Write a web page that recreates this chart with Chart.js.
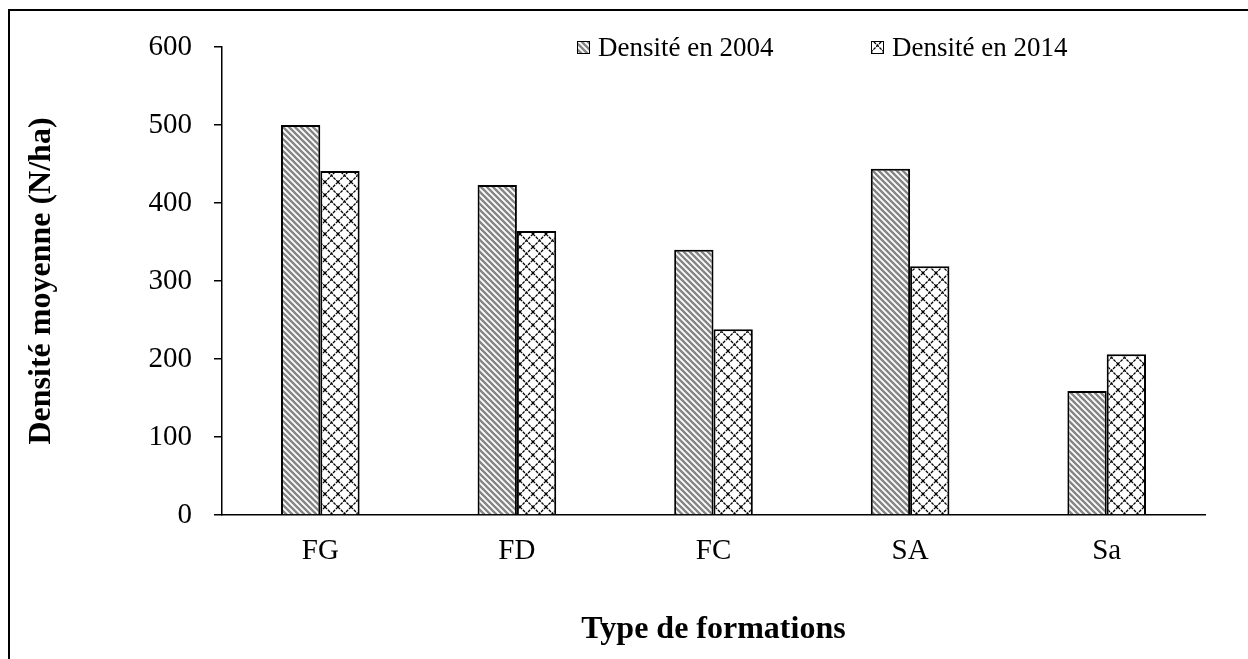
<!DOCTYPE html>
<html>
<head>
<meta charset="utf-8">
<script src="https://cdn.jsdelivr.net/npm/chart.js@4"></script>
<style>
  body { margin: 0; background: #fff; }
  #wrap { position: relative; width: 1248px; height: 659px; overflow: hidden; }
  #frame { position: absolute; left: 8px; top: 9px; width: 1300px; height: 700px;
           border-top: 2px solid #000; border-left: 2px solid #000; box-sizing: border-box; }
  #chart { position: absolute; left: 0; top: 0; }
</style>
</head>
<body>
<div id="wrap">
  <div id="frame"></div>
  <canvas id="chart" width="1248" height="659"></canvas>
</div>
<script>
const formations = ['FG', 'FD', 'FC', 'SA', 'Sa'];
const densite2004 = [500, 423, 340, 444, 159];
const densite2014 = [441, 364, 238, 319, 206];
const seriesLabels = ['Densité en 2004', 'Densité en 2014'];
const yTicks = [0, 100, 200, 300, 400, 500, 600];

const FONT = '"Liberation Serif", "Times New Roman", serif';

// hatch patterns
function stripePattern() {
    const c = document.createElement('canvas');
    c.width = 6; c.height = 6;
    const g = c.getContext('2d');
    g.fillStyle = '#fff';
    g.fillRect(0, 0, 6, 6);
    g.strokeStyle = '#858585';
    g.lineWidth = 2.4;
    for (const k of [-6, 0, 6]) {
        g.beginPath();
        g.moveTo(-1, k - 1);
        g.lineTo(7, k + 7);
        g.stroke();
    }
    return g.createPattern(c, 'repeat');
}

function crossPattern() {
    const c = document.createElement('canvas');
    c.width = 13; c.height = 13;
    const g = c.getContext('2d');
    g.fillStyle = '#fff';
    g.fillRect(0, 0, 13, 13);
    g.strokeStyle = '#000';
    g.lineWidth = 1.3;
    g.setLineDash([3, 1]);
    g.beginPath();
    g.moveTo(0, 0); g.lineTo(13, 13);
    g.moveTo(13, 0); g.lineTo(0, 13);
    g.stroke();
    return g.createPattern(c, 'repeat');
}

const fills = [stripePattern(), crossPattern()];

const legendPlugin = {
    id: 'topLegend',
    afterDraw(chart) {
        const ctx = chart.ctx;
        const xs = [577, 871];
        ctx.save();
        ctx.font = '27px ' + FONT;
        ctx.textBaseline = 'alphabetic';
        chart.data.datasets.forEach((ds, i) => {
            const x = xs[i], y = 41;
            ctx.fillStyle = ds.backgroundColor;
            ctx.fillRect(x, y, 13, 13);
            ctx.strokeStyle = '#000';
            ctx.lineWidth = 1;
            ctx.strokeRect(x + 0.5, y + 0.5, 12, 12);
            ctx.fillStyle = '#000';
            ctx.fillText(ds.label, x + 21, 56);
        });
        ctx.restore();
    }
};

new Chart(document.getElementById('chart'), {
    type: 'bar',
    data: {
        labels: formations,
        datasets: [
            { label: seriesLabels[0], data: densite2004, backgroundColor: fills[0], borderColor: '#000', borderWidth: 2 },
            { label: seriesLabels[1], data: densite2014, backgroundColor: fills[1], borderColor: '#000', borderWidth: 2 },
        ],
    },
    options: {
        responsive: false,
        animation: false,
        events: [],
        layout: { padding: { left: 0, top: 47, right: 43, bottom: 0 } },
        datasets: { bar: { barPercentage: 1, categoryPercentage: 0.4 } },
        plugins: { legend: { display: false }, tooltip: { enabled: false } },
        scales: {
            x: {
                afterFit: s => { s.height = 144; },
                grid: { display: false },
                border: { color: '#000', width: 1.5 },
                ticks: { color: '#000', padding: 11, font: { family: FONT, size: 29 } },
                title: { display: true, text: 'Type de formations', color: '#000', padding: { bottom: 10 },
                         font: { family: FONT, size: 32, weight: 'bold' } },
            },
            y: {
                min: 0, max: 600,
                afterFit: s => { s.width = 222; },
                afterBuildTicks: s => { s.ticks = yTicks.map(v => ({ value: v })); },
                grid: { drawOnChartArea: false, drawTicks: true, tickLength: 8, color: '#000', lineWidth: 1.5 },
                border: { color: '#000', width: 1.5 },
                ticks: { color: '#000', padding: 22, font: { family: FONT, size: 29 } },
                title: { display: true, text: 'Densité moyenne (N/ha)', color: '#000', padding: { top: 23 },
                         font: { family: FONT, size: 32, weight: 'bold' } },
            },
        },
    },
    plugins: [legendPlugin],
});
</script>
</body>
</html>
